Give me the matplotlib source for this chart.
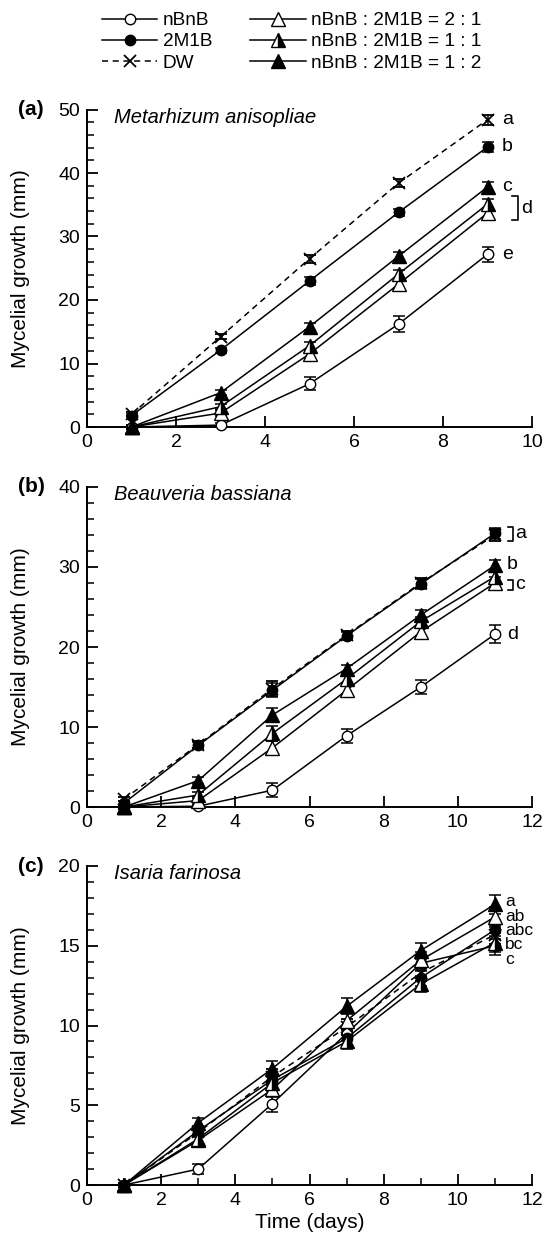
import matplotlib
matplotlib.use("Agg")
import matplotlib.pyplot as plt
import numpy as np
from matplotlib.ticker import MultipleLocator
from matplotlib.lines import Line2D

plt.rcParams['font.family'] = ['Liberation Sans', 'DejaVu Sans']

series_names = ["nBnB", "2M1B", "DW", "nBnB : 2M1B = 2 : 1", "nBnB : 2M1B = 1 : 1", "nBnB : 2M1B = 1 : 2"]

# Panel (a) Metarhizum anisopliae
days_a = [1, 3, 5, 7, 9]
a_nBnB = [0.0, 0.3, 6.8, 16.2, 27.2]
a_2M1B = [1.8, 12.1, 23.0, 33.8, 44.1]
a_DW = [2.0, 14.2, 26.5, 38.4, 48.4]
a_21 = [0.0, 2.2, 11.5, 22.5, 33.7]
a_11 = [0.0, 3.2, 12.8, 24.1, 35.1]
a_12 = [0.0, 5.4, 15.8, 26.9, 37.8]
a_err_nBnB = [0.1, 0.3, 1.0, 1.3, 1.2]
a_err_other = [0.3, 0.4, 0.6, 0.6, 0.8]
a_letters = ["a", "b", "c", "d", "e"]
a_letter_y = [48.4, 44.1, 37.8, 34.4, 27.2]

# Panel (b) Beauveria bassiana
days_b = [1, 3, 5, 7, 9, 11]
b_nBnB = [0.0, 0.1, 2.1, 8.9, 15.0, 21.6]
b_2M1B = [0.5, 7.7, 14.6, 21.4, 27.9, 34.2]
b_DW = [1.0, 7.8, 14.8, 21.5, 28.0, 34.0]
b_21 = [0.0, 0.8, 7.4, 14.6, 21.9, 28.0]
b_11 = [0.0, 1.5, 9.2, 16.0, 23.2, 28.8]
b_12 = [0.0, 3.3, 11.5, 17.3, 24.0, 30.2]
b_err_nBnB = [0.1, 0.2, 0.9, 0.9, 0.9, 1.1]
b_err_other = [0.2, 0.4, 0.9, 0.5, 0.6, 0.7]
b_letters = ["a", "b", "c", "d"]
b_letter_y = [34.2, 30.3, 27.8, 21.6]

# Panel (c) Isaria farinosa
days_c = [1, 3, 5, 7, 9, 11]
c_nBnB = [0.0, 1.0, 5.1, 9.5, 13.9, 15.0]
c_2M1B = [0.0, 3.4, 6.6, 9.2, 13.0, 16.0]
c_DW = [0.0, 3.3, 6.8, 9.9, 13.3, 15.7]
c_21 = [0.0, 2.8, 6.0, 10.3, 14.1, 16.8]
c_11 = [0.0, 2.9, 6.4, 9.0, 12.6, 15.2]
c_12 = [0.0, 3.9, 7.3, 11.2, 14.7, 17.6]
c_err = [0.1, 0.3, 0.5, 0.5, 0.5, 0.6]
c_letters = ["a", "ab", "abc", "bc", "c"]
c_letter_y = [17.75, 16.85, 15.95, 15.05, 14.15]

styles = {
    "nBnB": dict(marker='o', ls='-', mfc='white', mec='black', ms=7.5),
    "2M1B": dict(marker='o', ls='-', mfc='black', mec='black', ms=7.5),
    "DW": dict(marker='x', ls=(0, (4, 3)), mfc='black', mec='black', ms=9, mew=1.3),
    "nBnB : 2M1B = 2 : 1": dict(marker='^', ls='-', mfc='white', mec='black', ms=9.5),
    "nBnB : 2M1B = 1 : 1": dict(marker='^', ls='-', mfc='black', mec='black', ms=9.5,
                               fillstyle='right', markerfacecoloralt='white'),
    "nBnB : 2M1B = 1 : 2": dict(marker='^', ls='-', mfc='black', mec='black', ms=9.5),
}

fig = plt.figure(figsize=(5.52, 12.43), dpi=100)
L, R = 87 / 552, 532 / 552
ax_a = fig.add_axes([L, 1 - 427 / 1243, R - L, (427 - 109.5) / 1243])
ax_b = fig.add_axes([L, 1 - 807 / 1243, R - L, (807 - 487) / 1243])
ax_c = fig.add_axes([L, 1 - 1185 / 1243, R - L, (1185 - 866) / 1243])


def draw(ax, days, data, errs):
    for name, vals, err in zip(series_names, data, errs):
        st = dict(styles[name])
        ls = st.pop('ls')
        ax.errorbar(days, vals, yerr=err, color='black', lw=1.1, ls=ls,
                    capsize=4.5, elinewidth=1.1, capthick=1.1, clip_on=False,
                    zorder=3, **st)


def style_axes(ax, xmax, ymax, ymaj, ymin, xminor=None):
    ax.set_xlim(0, xmax)
    ax.set_ylim(0, ymax)
    ax.xaxis.set_major_locator(MultipleLocator(2))
    ax.yaxis.set_major_locator(MultipleLocator(ymaj))
    ax.yaxis.set_minor_locator(MultipleLocator(ymin))
    if xminor:
        ax.xaxis.set_minor_locator(MultipleLocator(xminor))
    for s in ['top', 'right']:
        ax.spines[s].set_visible(False)
    for s in ['left', 'bottom']:
        ax.spines[s].set_linewidth(1.4)
    ax.tick_params(which='major', direction='in', length=8, width=1.3, labelsize=14, pad=5)
    ax.tick_params(which='minor', direction='in', length=5, width=1.1)
    ax.set_ylabel("Mycelial growth (mm)", fontsize=15)
    ax.yaxis.set_label_coords(-0.128, 0.5)


draw(ax_a, days_a, [a_nBnB, a_2M1B, a_DW, a_21, a_11, a_12],
     [a_err_nBnB] + [a_err_other] * 5)
style_axes(ax_a, 10, 50, 10, 2)
draw(ax_b, days_b, [b_nBnB, b_2M1B, b_DW, b_21, b_11, b_12],
     [b_err_nBnB] + [b_err_other] * 5)
style_axes(ax_b, 12, 40, 10, 2)
draw(ax_c, days_c, [c_nBnB, c_2M1B, c_DW, c_21, c_11, c_12], [c_err] * 6)
style_axes(ax_c, 12, 20, 5, 1, xminor=1)
ax_c.set_xlabel("Time (days)", fontsize=15, labelpad=3)

# significance letters
fs = 14
for lab, y in zip(a_letters, a_letter_y):
    if lab == "d":
        ax_a.plot([9.55, 9.68, 9.68, 9.55], [32.6, 32.6, 36.3, 36.3], color='black', lw=1.2, clip_on=False)
        ax_a.text(9.76, y, lab, fontsize=fs, va='center', ha='left')
    else:
        ax_a.text(9.33, y, lab, fontsize=fs, va='center', ha='left')
for lab, y in zip(b_letters, b_letter_y):
    if lab in ("a", "c"):
        lo, hi = (33.2, 35.0) if lab == "a" else (27.1, 28.4)
        ax_b.plot([11.35, 11.48, 11.48, 11.35], [lo, lo, hi, hi], color='black', lw=1.2, clip_on=False)
        ax_b.text(11.55, y, lab, fontsize=fs, va='center', ha='left')
    else:
        ax_b.text(11.33, y, lab, fontsize=fs, va='center', ha='left')
for lab, y in zip(c_letters, c_letter_y):
    ax_c.text(11.28, y, lab, fontsize=12.5, va='center', ha='left')

# panel labels and species names
for ax, lab, sp in [(ax_a, "(a)", "Metarhizum anisopliae"),
                    (ax_b, "(b)", "Beauveria bassiana"),
                    (ax_c, "(c)", "Isaria farinosa")]:
    ax.text(-0.155, 1.0, lab, transform=ax.transAxes, fontsize=15, fontweight='bold',
            va='center', ha='left')
    ax.text(0.06, 0.975, sp, transform=ax.transAxes, fontsize=14.5, style='italic',
            va='center', ha='left')

handles = []
for name in series_names:
    st = dict(styles[name])
    ls = st.pop('ls')
    handles.append(Line2D([], [], color='black', lw=1.1, ls=ls, **st))

fig.legend(handles, series_names, loc='upper left', bbox_to_anchor=(102 / 552, 1 - 12 / 1243),
           ncol=2, frameon=False, fontsize=13.7, handlelength=2.9, handletextpad=0.3,
           columnspacing=2.0, labelspacing=0.2, borderaxespad=0, borderpad=0)

fig.savefig("out.png", dpi=100)
